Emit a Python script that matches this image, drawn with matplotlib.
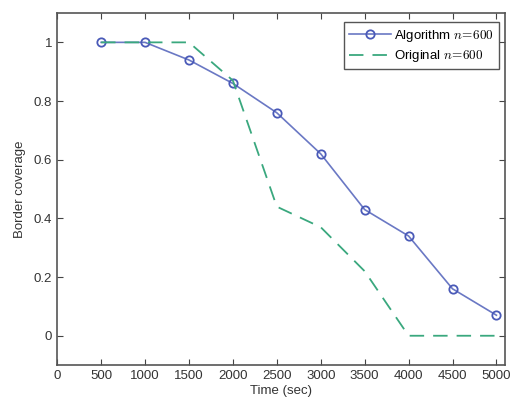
import matplotlib
matplotlib.use("Agg")
import matplotlib.pyplot as plt

time = [500, 1000, 1500, 2000, 2500, 3000, 3500, 4000, 4500, 5000]
algorithm = [1.0, 1.0, 0.94, 0.86, 0.76, 0.62, 0.43, 0.34, 0.16, 0.07]
original = [1.0, 1.0, 1.0, 0.87, 0.44, 0.37, 0.22, 0.0, 0.0, 0.0]
xticks = [0, 500, 1000, 1500, 2000, 2500, 3000, 3500, 4000, 4500, 5000]
yticks = [0, 0.2, 0.4, 0.6, 0.8, 1]

plt.rcParams['font.family'] = ['Liberation Sans', 'DejaVu Sans']
plt.rcParams['mathtext.fontset'] = 'cm'
fig = plt.figure(figsize=(5.15, 4.07), dpi=100)
ax = fig.add_axes([0.111, 0.103, 0.870, 0.865])

ax.plot(time, algorithm, color='#6a78c4', lw=1.2, marker='o', ms=6,
        mfc='none', mec='#4a5ab8', mew=1.3, label=r'Algorithm $n\!=\!600$', zorder=2)
ax.plot(time, original, color='#3aa87e', lw=1.3, dashes=(8, 5),
        label=r'Original $n\!=\!600$', zorder=3)

ax.set_xlim(0, 5100)
ax.set_ylim(-0.1, 1.1)
ax.set_xticks(xticks)
ax.set_xticklabels([str(t) for t in xticks])
ax.set_yticks(yticks)
ax.set_yticklabels(['0', '0.2', '0.4', '0.6', '0.8', '1'])
ax.tick_params(direction='in', top=True, right=True, length=4, width=0.8,
               labelsize=9.5, colors='#444444', labelcolor='#333333')
for s in ax.spines.values():
    s.set_color('#555555')
    s.set_linewidth(1.2)
ax.set_xlabel('Time (sec)', fontsize=9.5, color='#333333', labelpad=2)
ax.set_ylabel('Border coverage', fontsize=9.5, color='#333333', labelpad=6)

leg = ax.legend(loc='upper right', bbox_to_anchor=(0.995, 0.985), fontsize=9.5,
                fancybox=False, framealpha=1, edgecolor='#555555',
                handlelength=3.2, handletextpad=0.2, borderpad=0.4,
                labelspacing=0.35, borderaxespad=0.3)
leg.get_frame().set_linewidth(1.0)

fig.savefig('out.png', dpi=100)
